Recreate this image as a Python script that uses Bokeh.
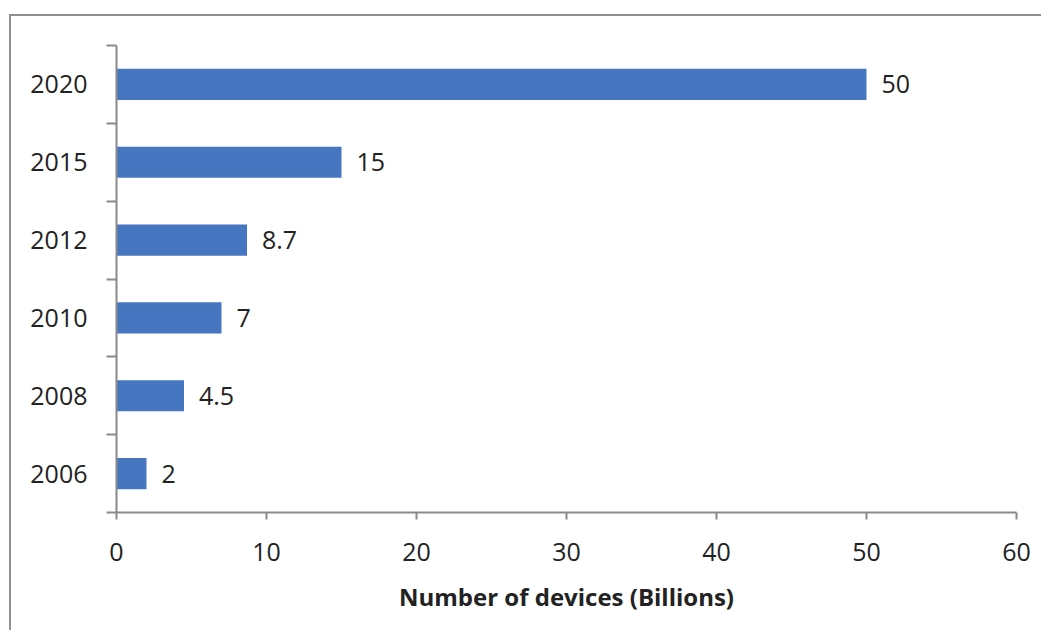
from bokeh.plotting import figure
from bokeh.models import FixedTicker, ColumnDataSource, Range1d
from bokeh.embed import file_html
from bokeh.resources import INLINE

years = ["2006", "2008", "2010", "2012", "2015", "2020"]
devices = [2, 4.5, 7, 8.7, 15, 50]
value_labels = ["2", "4.5", "7", "8.7", "15", "50"]
x_ticks = [0, 10, 20, 30, 40, 50, 60]

pos = [i + 0.5 for i in range(len(years))]
src = ColumnDataSource(dict(y=pos, v=devices, lab=value_labels))

FONT = "Open Sans"
W, H = 1032, 616
p = figure(width=W, height=H, output_backend="svg", toolbar_location=None,
           x_range=Range1d(0, 60), y_range=Range1d(0, len(years)),
           min_border_left=105, min_border_top=29, min_border_right=27,
           min_border_bottom=120, margin=(14, 0, 0, 9))
p.styles = {"border-left": "2px solid #8f8f8f", "border-top": "2px solid #8f8f8f"}
p.outline_line_color = None
p.xgrid.visible = False
p.ygrid.visible = False

p.hbar(y="y", right="v", left=0, height=0.4, source=src,
       fill_color="#4676c0", line_color=None)
p.text(x="v", y="y", text="lab", source=src, x_offset=15,
       text_align="left", text_baseline="middle",
       text_font_size="25px", text_color="#222222",
       text_font={"value": FONT})

xa = p.xaxis[0]
xa.ticker = FixedTicker(ticks=x_ticks)
xa.axis_line_color = "#8a8a8a"
xa.axis_line_width = 2
xa.major_tick_line_color = "#8a8a8a"
xa.major_tick_line_width = 2
xa.major_tick_out = 7
xa.major_tick_in = 0
xa.minor_tick_line_color = None
xa.major_label_standoff = 23
xa.major_label_text_font = FONT
xa.major_label_text_font_size = "25px"
xa.major_label_text_color = "#222222"
xa.axis_label = "Number of devices (Billions)"
xa.axis_label_text_font = FONT
xa.axis_label_text_font_size = "24px"
xa.axis_label_text_font_style = "bold"
xa.axis_label_text_color = "#222222"
xa.axis_label_standoff = 16

ya = p.yaxis[0]
ya.ticker = FixedTicker(ticks=pos, minor_ticks=list(range(len(years) + 1)))
ya.major_label_overrides = {pv: yr for pv, yr in zip(pos, years)}
ya.axis_line_color = "#8a8a8a"
ya.axis_line_width = 2
ya.major_tick_line_color = None
ya.major_tick_out = 0
ya.major_tick_in = 0
ya.minor_tick_line_color = "#8a8a8a"
ya.minor_tick_line_width = 2
ya.minor_tick_out = 10
ya.minor_tick_in = 0
ya.major_label_standoff = 19
ya.major_label_text_font = FONT
ya.major_label_text_font_size = "25px"
ya.major_label_text_color = "#222222"

open("out.html", "w").write(file_html(p, INLINE))
